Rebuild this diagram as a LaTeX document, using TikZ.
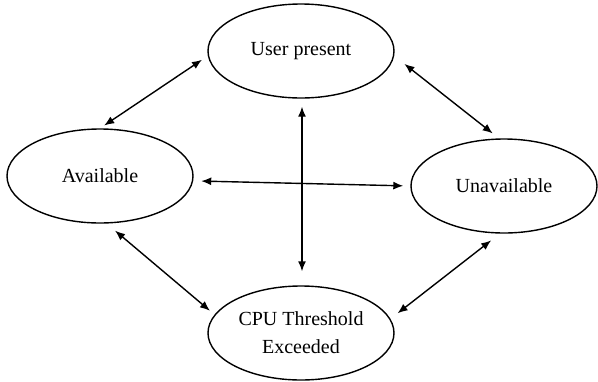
\documentclass[tikz,border=0pt]{standalone}
\usepackage{fontspec}
\setmainfont{Liberation Serif}
\usetikzlibrary{arrows.meta,shapes.geometric}
\begin{document}
\begin{tikzpicture}[x=1pt,y=-1pt,
  state/.style={draw,ellipse,line width=1.4pt,minimum width=186pt,minimum height=94pt,
    inner sep=0pt,align=center,font=\fontsize{20}{28}\selectfont},
  link/.style={line width=1.4pt,{Latex[length=10pt,width=8pt]}-{Latex[length=10pt,width=8pt]}}]
  \useasboundingbox (0,0) rectangle (598,381);
  \node[state] (user)  at (301,51)  {User present};
  \node[state] (avail) at (100,176) {Available};
  \node[state] (unav)  at (504,186) {Unavailable};
  \node[state] (cpu)   at (301,333) {CPU Threshold\\Exceeded};
  % transitions between states
  \draw[link,shorten <=5pt,shorten >=7pt] (avail.90) -- (user.183);
  \draw[link,shorten <=13pt,shorten >=8pt] (user.-3) -- (unav.96);
  \draw[link,shorten <=8pt,shorten >=7pt] (avail.-3) -- (unav.180);
  \draw[link,shorten <=8pt,shorten >=14pt] ([xshift=1pt]user.south) -- ([xshift=1pt]cpu.north);
  \draw[link,shorten <=11pt,shorten >=6pt] (avail.-82) -- (cpu.168);
  \draw[link,shorten <=11pt,shorten >=9pt] (unav.-95) -- (cpu.9.5);
\end{tikzpicture}
\end{document}
